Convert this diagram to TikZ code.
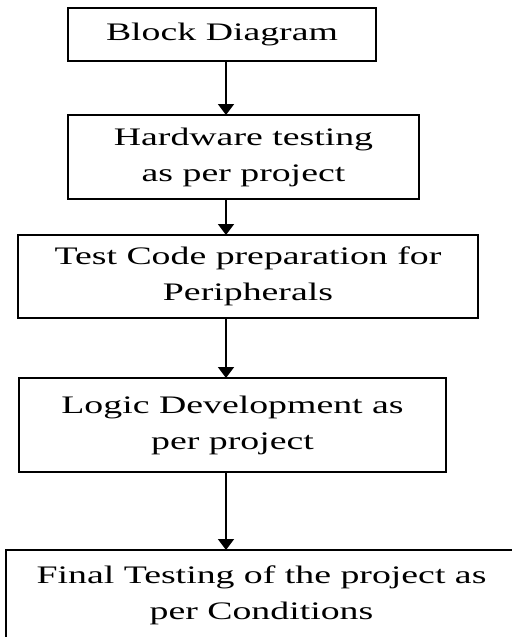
\documentclass[tikz,border=0pt]{standalone}
\usepackage{fontspec}
\setmainfont[FakeStretch=1.5]{Liberation Serif}
\usepackage{tikz}
\usetikzlibrary{positioning, arrows.meta}

\begin{document}
\begin{tikzpicture}[
    x=0.5pt, y=-0.5pt,
    stage/.style={draw, line width=0.9pt, inner sep=0pt, outer sep=0pt, align=center, font=\fontsize{12.6}{18}\selectfont},
    flow/.style={draw, line width=0.9pt, -{Triangle[length=5.5pt, width=8pt]}}
]
\useasboundingbox (0,0) rectangle (512,637);
\clip (0,0) rectangle (512,637);
\coordinate (spine) at (226,0);

\node[stage, minimum width=154pt, minimum height=26.5pt] (blk) at (222,34.5) {Block Diagram};
\node[stage, minimum width=175.5pt, minimum height=42pt] (hw) at (243.5,157) {Hardware testing\\as per project};
\node[stage, minimum width=230pt, minimum height=41.5pt] (tcode) at (248,276.5) {Test Code preparation for\\Peripherals};
\node[stage, minimum width=213.5pt, minimum height=47pt] (logic) at (232.5,425) {Logic Development as\\per project};
\node[stage, minimum width=255.5pt, minimum height=45pt] (final) at (261.5,595) {Final Testing of the project as\\per Conditions};

\draw[flow] (blk.south -| spine) -- (hw.north -| spine);
\draw[flow] (hw.south -| spine) -- (tcode.north -| spine);
\draw[flow] (tcode.south -| spine) -- (logic.north -| spine);
\draw[flow] (logic.south -| spine) -- (final.north -| spine);
\end{tikzpicture}
\end{document}
